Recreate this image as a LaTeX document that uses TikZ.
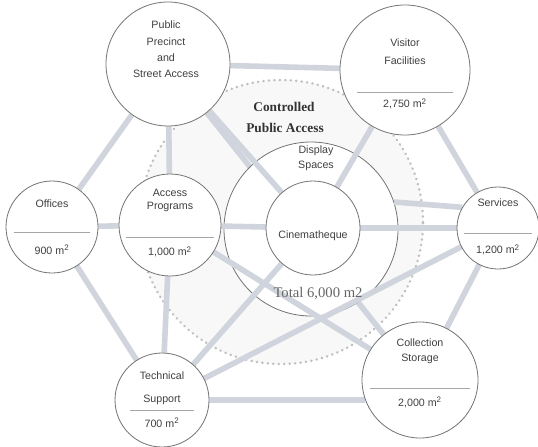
\documentclass[tikz,border=0pt]{standalone}
\usepackage{fontspec}
\setmainfont{Liberation Sans}
\newfontfamily\serifb{Liberation Serif}
\usetikzlibrary{calc}
\definecolor{linec}{RGB}{208,212,220}
\definecolor{zonec}{RGB}{248,248,249}
\pgfdeclarelayer{bgzero}
\pgfdeclarelayer{bgone}
\pgfdeclarelayer{bgtwo}
\pgfsetlayers{bgzero,bgone,bgtwo,main}
\begin{document}
\begin{tikzpicture}[x=0.75pt,y=-0.75pt,
  conn/.style={line width=4.2pt, draw=linec},
  bubble/.style={circle, draw=black!55, line width=0.6pt, fill=white, inner sep=0pt},
  lbl/.style={font=\fontsize{8}{9}\selectfont, text=black!75, inner sep=0pt},
  big/.style={font=\serifb\bfseries\fontsize{10}{11}\selectfont, text=black!80, inner sep=0pt},
  tot/.style={font=\serifb\fontsize{11}{12}\selectfont, text=black!60, inner sep=0pt},
  sep/.style={draw=black!35, line width=0.5pt}
]
\useasboundingbox (0,0) rectangle (538,446);
\begin{pgfonlayer}{bgzero}
\fill[white] (0,0) rectangle (538,446);
\node[circle, minimum size=213pt, fill=zonec, draw=black!25, line width=2pt,
  line cap=round, dash pattern=on 0.1pt off 4pt, inner sep=0pt] (zone) at (281,222) {};
\end{pgfonlayer}

% nodes
\node[bubble, minimum size=93pt] (P) at (168,64) {};
\node[bubble, minimum size=97.5pt] (V) at (405,70) {};
\node[bubble, minimum size=69pt] (O) at (52,227) {};
\node[bubble, minimum size=76.5pt] (A) at (170,225) {};
\node[bubble, minimum size=61.5pt] (S) at (498,228) {};
\node[bubble, minimum size=70.5pt] (T) at (162,400) {};
\node[bubble, minimum size=87pt] (C) at (420,380) {};
\node[bubble, minimum size=70.5pt] (Cin) at (313,228) {};
\begin{pgfonlayer}{bgone}
\node[bubble, minimum size=130.5pt] (Disp) at (311,229) {};
\end{pgfonlayer}

\begin{pgfonlayer}{bgzero}
\draw[conn] (P) -- (C);
\end{pgfonlayer}

\begin{pgfonlayer}{bgtwo}
\draw[conn] (P) -- (V);
\draw[conn] (V) -- (S);
\draw[conn] (S) -- (C);
\draw[conn] (T) -- (C.200);
\draw[conn] (T) -- (O);
\draw[conn] (O) -- (P);
\draw[conn] (P) -- (A);
\draw[conn] (A) -- (T);
\draw[conn] (O) -- (A);
\draw[conn] (A) -- (Cin);
\draw[conn] (Cin) -- (S);
\draw[conn] (P) -- (Cin);
\draw[conn] (V) -- (Cin);
\draw[conn] (T) -- (Cin);
\draw[conn] (A) -- (C);
\draw[conn] (T) -- (S);
\draw[conn] (Disp.18) -- (S.150);
\end{pgfonlayer}

% texts
\node[lbl] (p1) at (166,25) {Public};
\node[lbl] (p2) at (166,42) {Precinct};
\node[lbl] (p3) at (166,58) {and};
\node[lbl] (p4) at (166,74) {Street Access};

\node[lbl] (v1) at (405,43) {Visitor};
\node[lbl] (v2) at (405,61) {Facilities};
\draw[sep] ($(V)+(-48,22)$) -- ($(V)+(48,22)$);
\node[lbl] (v3) at (405,104) {2,750 m\textsuperscript{2}};

\node[lbl] (o1) at (52,204) {Offices};
\draw[sep] ($(O)+(-38,5)$) -- ($(O)+(38,5)$);
\node[lbl] (o2) at (52,250) {900 m\textsuperscript{2}};

\node[lbl] (a1) at (170,193) {Access};
\node[lbl] (a2) at (170,207) {Programs};
\draw[sep] ($(A)+(-44,12)$) -- ($(A)+(44,12)$);
\node[lbl] (a3) at (170,252) {1,000 m\textsuperscript{2}};

\node[lbl] (s1) at (498,203) {Services};
\draw[sep] ($(S)+(-34,5)$) -- ($(S)+(34,5)$);
\node[lbl] (s2) at (498,250) {1,200 m\textsuperscript{2}};

\node[lbl] (t1) at (162,376) {Technical};
\node[lbl] (t2) at (162,400) {Support};
\draw[sep] ($(T)+(-32,10)$) -- ($(T)+(32,10)$);
\node[lbl] (t3) at (162,423) {700 m\textsuperscript{2}};

\node[lbl] (c1) at (420,343) {Collection};
\node[lbl] (c2) at (420,359) {Storage};
\draw[sep] ($(C)+(-50,8)$) -- ($(C)+(50,8)$);
\node[lbl] (c3) at (420,402) {2,000 m\textsuperscript{2}};

\node[lbl] (d1) at (316,151) {Display};
\node[lbl] (d2) at (316,166) {Spaces};
\node[lbl] (cin) at (313,236) {Cinematheque};
\node[tot] (tot) at (318,294) {Total 6,000 m2};

\node[big] (z1) at (284,107) {Controlled};
\node[big] (z2) at (285,128) {Public Access};
\end{tikzpicture}
\end{document}
